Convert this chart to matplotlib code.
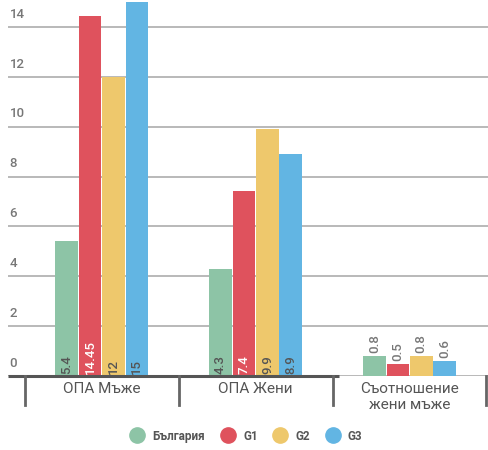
import matplotlib.pyplot as plt
import numpy as np
from matplotlib.lines import Line2D

plt.rcParams["font.family"] = ["Roboto", "DejaVu Sans"]

categories = ["ОПА Мъже", "ОПА Жени", "Съотношение\nжени мъже"]
series_names = ["България", "G1", "G2", "G3"]
bulgaria = [5.4, 4.3, 0.8]
g1 = [14.45, 7.4, 0.5]
g2 = [12, 9.9, 0.8]
g3 = [15, 8.9, 0.6]
value_labels = [
    ["5.4", "4.3", "0.8"],
    ["14.45", "7.4", "0.5"],
    ["12", "9.9", "0.8"],
    ["15", "8.9", "0.6"],
]
y_ticks = [0, 2, 4, 6, 8, 10, 12, 14]

colors = ["#8DC4A6", "#DF525D", "#EEC86C", "#62B5E3"]
label_colors = ["#555555", "white", "#555555", "#555555"]

fig = plt.figure(figsize=(4.88, 4.5), dpi=100)
ax = fig.add_axes([8 / 488, 1 - 376 / 450, 1 - 8 / 488, 376 / 450])

x = np.arange(len(categories))
width = 0.152
all_series = [bulgaria, g1, g2, g3]

for yv in y_ticks:
    ax.axhline(yv, color="#adadad", lw=1.2, zorder=0)
    ax.text(-0.6, yv + 0.25, str(yv), color="#777777", fontsize=9.5,
            fontweight="medium", ha="left", va="bottom")

for i, vals in enumerate(all_series):
    pos = x + (i - 1.5) * width
    ax.bar(pos, vals, width=width * 0.97, color=colors[i], zorder=2)
    for j, v in enumerate(vals):
        if j < 2:
            ax.text(pos[j], 0.1, value_labels[i][j], rotation=90, ha="center",
                    va="bottom", fontsize=9.5, color=label_colors[i],
                    fontweight="medium", zorder=3)
        else:
            ax.text(pos[j], v + 0.12, value_labels[i][j], rotation=90,
                    ha="center", va="bottom", fontsize=9.5, color="#777777",
                    fontweight="medium", zorder=3)

# dark baseline and group separators
ax.plot([-0.61, 1.54], [0, 0], color="#555555", lw=2.2, zorder=4,
        solid_capstyle="butt", clip_on=False)
for sep in [-0.5, 0.5, 1.5, 2.5]:
    ax.plot([sep, sep], [0, -1.15], color="#666666", lw=2, clip_on=False,
            zorder=4)

for j, cat in enumerate(categories):
    ax.text(x[j], -0.25, cat, ha="center", va="top", fontsize=11,
            color="#555555", linespacing=1.2)

ax.set_xlim(-0.61, 2.51)
ax.set_ylim(0, 15.08)
ax.axis("off")

handles = [Line2D([], [], marker="o", linestyle="", markersize=11,
                  markerfacecolor=c, markeredgecolor=c) for c in colors]
fig.legend(handles, series_names, loc="center", bbox_to_anchor=(0.5, 0.031),
           ncol=4, frameon=False, handletextpad=0.3,
           columnspacing=0.9, labelcolor="#555555",
           prop={"weight": "bold", "size": 8.5})

fig.savefig("out.png", dpi=100)
